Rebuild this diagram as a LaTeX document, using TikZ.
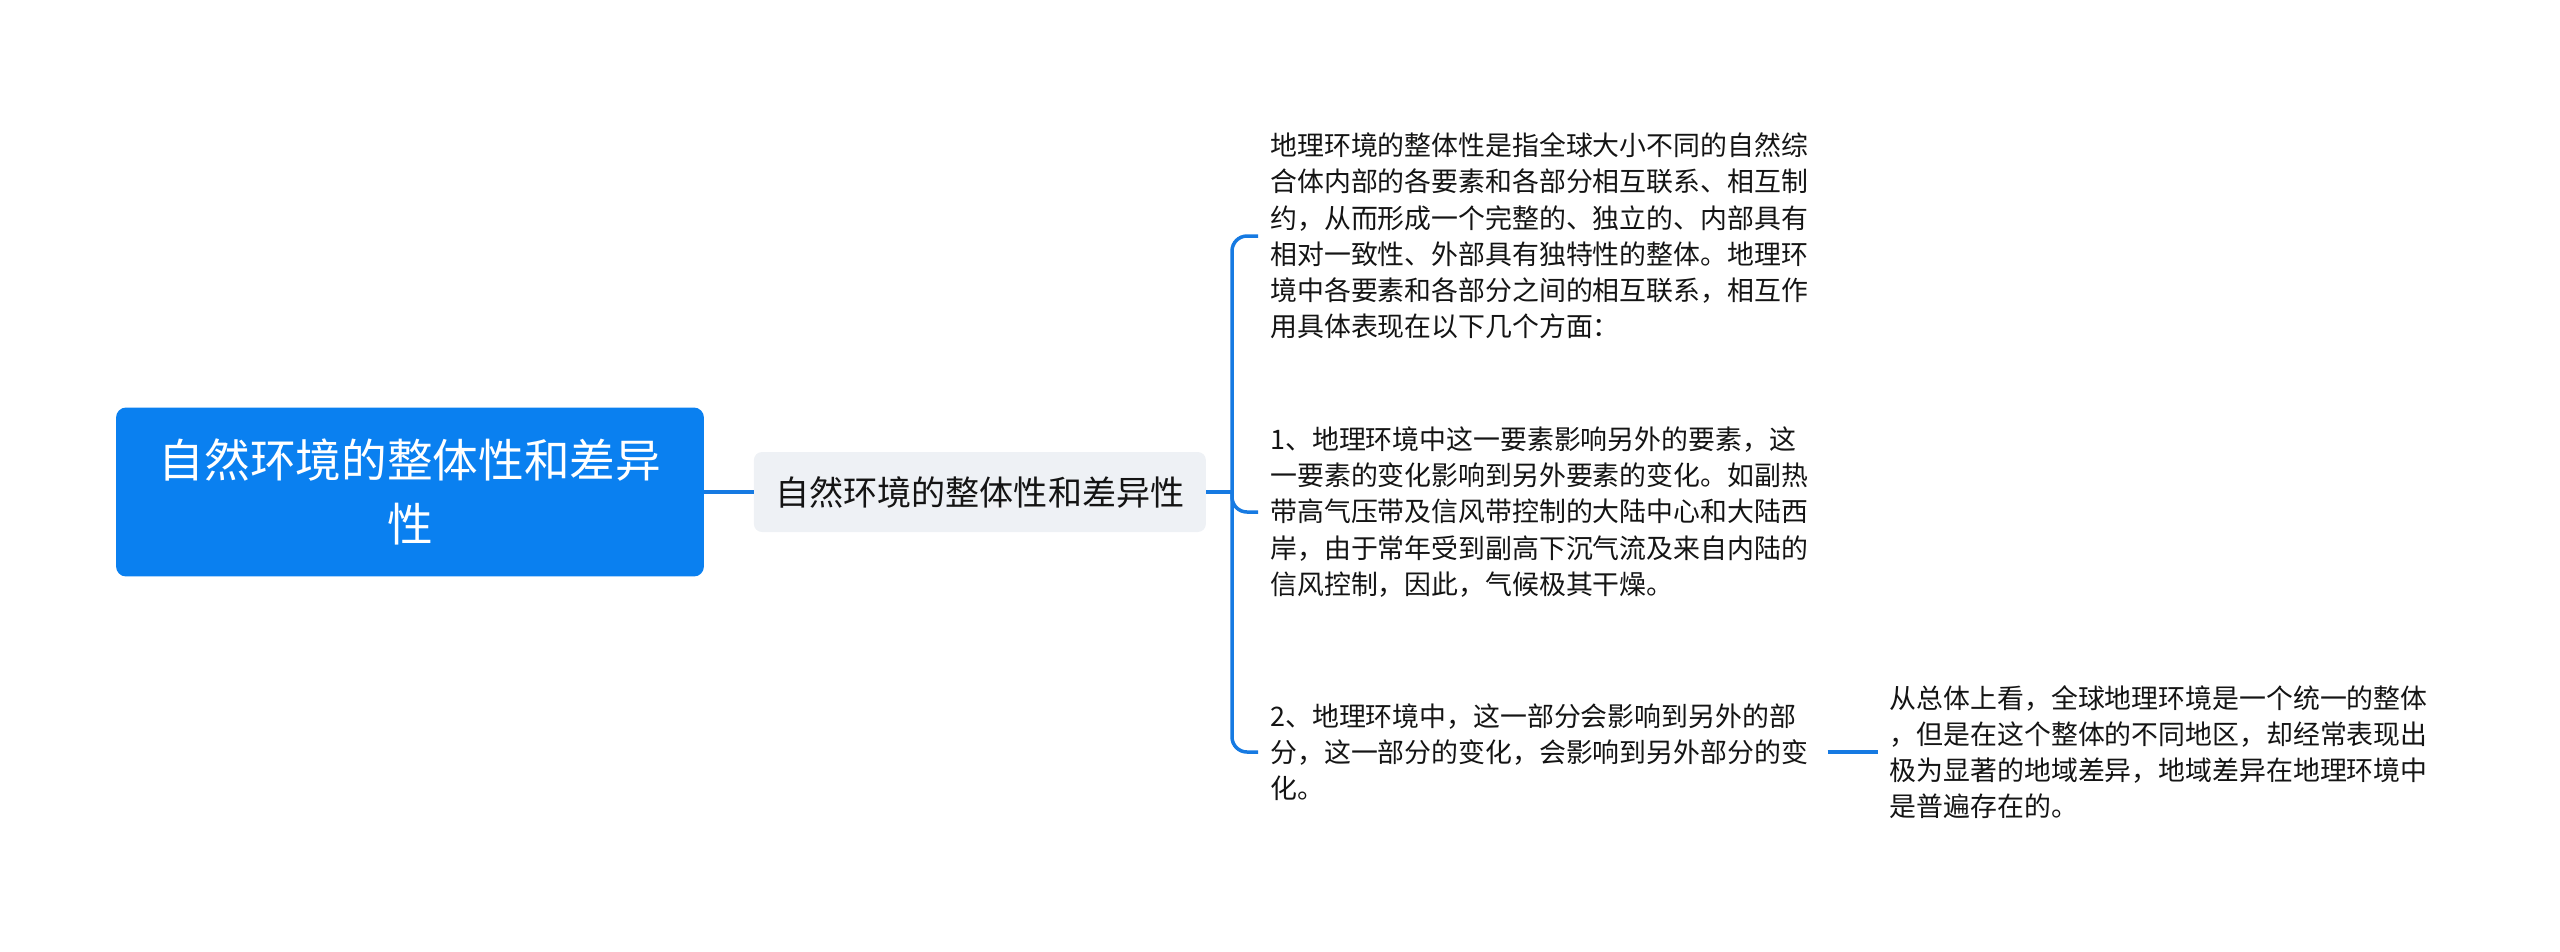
\documentclass[tikz,border=0pt]{standalone}
\usepackage{fontspec}
\setmainfont{Noto Sans CJK SC}
\usepackage{tikz}
\usetikzlibrary{positioning}
\usepackage{xcolor}
\definecolor{mmblue}{RGB}{10,128,240}
\definecolor{mmline}{RGB}{22,122,226}
\definecolor{mmgray}{RGB}{238,241,245}
\definecolor{mmtext}{RGB}{20,20,20}
\tikzstyle{link} = [line width=0.07cm, color=mmline]
\tikzstyle{hook} = [link, rounded corners=0.3cm]
\tikzstyle{rootbox} = [rectangle, rounded corners=0.2cm, minimum width=11.76cm, minimum height=3.38cm, text width=11cm, align=center, fill=mmblue, text=white, font=\fontsize{26}{36.4}\selectfont]
\tikzstyle{topicbox} = [rectangle, rounded corners=0.16cm, minimum width=9.04cm, minimum height=1.6cm, align=center, fill=mmgray, text=mmtext, font=\fontsize{19.4}{24}\selectfont]
\tikzstyle{leaftext} = [inner xsep=0.24cm, inner ysep=0.1cm, text width=10.9cm, align=left, text=mmtext, font=\fontsize{15.3}{20.6}\selectfont]

\begin{document}
\begin{tikzpicture}[x=0.02cm, y=-0.02cm]
\useasboundingbox (0,0) rectangle (2560,951);
% Root and topic
\node (root) [rootbox] at (410,492) {自然环境的整体性和差异\\性};
\node (topic) [topicbox, right of=root, node distance=11.4cm] {自然环境的整体性和差异性};

% Details
\node (whole) [leaftext, anchor=west] at (1258,236) {地理环境的整体性是指全球大小不同的自然综\\合体内部的各要素和各部分相互联系、相互制\\约，从而形成一个完整的、独立的、内部具有\\相对一致性、外部具有独特性的整体。地理环\\境中各要素和各部分之间的相互联系，相互作\\用具体表现在以下几个方面：};
\node (elem) [leaftext, anchor=west] at (1258,512) {1、地理环境中这一要素影响另外的要素，这\\一要素的变化影响到另外要素的变化。如副热\\带高气压带及信风带控制的大陆中心和大陆西\\岸，由于常年受到副高下沉气流及来自内陆的\\信风控制，因此，气候极其干燥。};
\node (part) [leaftext, anchor=west] at (1258,752) {2、地理环境中，这一部分会影响到另外的部\\分，这一部分的变化，会影响到另外部分的变\\化。};
\node (diff) [leaftext, right=1.0cm of part] {从总体上看，全球地理环境是一个统一的整体\\，但是在这个整体的不同地区，却经常表现出\\极为显著的地域差异，地域差异在地理环境中\\是普遍存在的。};

% Connectors
\coordinate (fork) at (1232,492);
\draw[link] (root.east) -- (topic.west);
\draw[link] (topic.east) -- (fork);
\draw[hook] (fork) |- (whole.west);
\draw[hook] (fork) |- (elem.west);
\draw[hook] (fork) |- (part.west);
\draw[link] (part.east) -- (diff.west);
\end{tikzpicture}
\end{document}
